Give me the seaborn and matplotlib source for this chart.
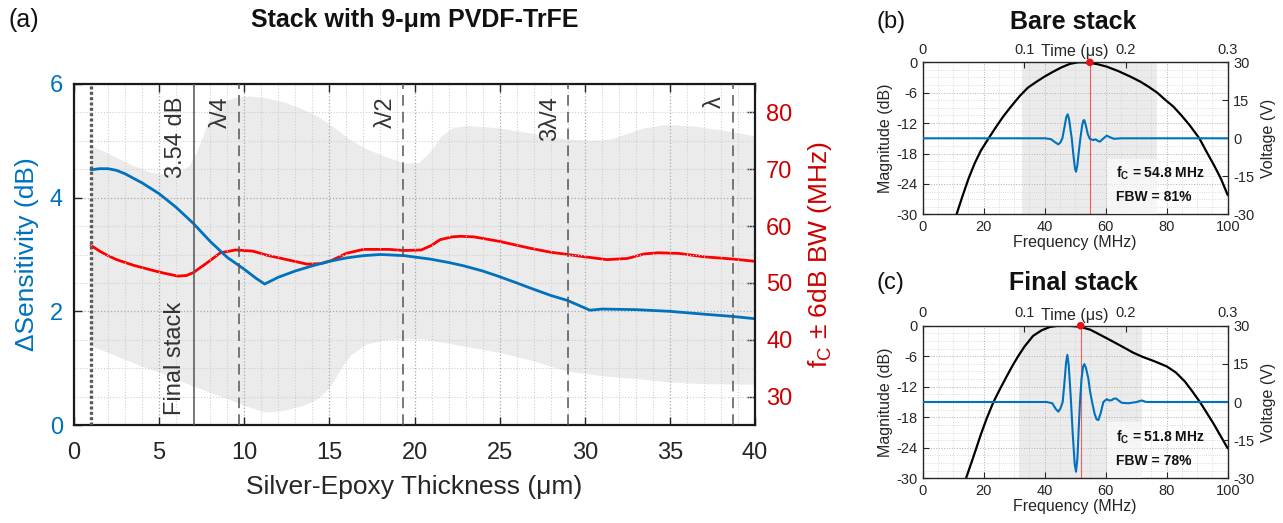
import numpy as np
import matplotlib
matplotlib.use('Agg')
import matplotlib.pyplot as plt
import seaborn as sns
from matplotlib.patches import Rectangle
from matplotlib.ticker import MultipleLocator

# ---------------- Panel (a) data ----------------
thick_blue = [1.0, 1.5, 2.0, 2.5, 3.0, 4.0, 5.0, 6.0, 7.0, 8.0, 9.0, 10.0, 10.7, 11.2,
              12.0, 13.0, 14.0, 15.0, 16.0, 17.0, 18.0, 19.4, 20.9, 22.0, 22.9, 24.0,
              24.9, 26.0, 26.8, 28.0, 29.0, 30.3, 31.0, 33.0, 35.0, 37.0, 38.7, 40.0]
dsens_db = [4.49, 4.51, 4.51, 4.48, 4.42, 4.26, 4.07, 3.83, 3.55, 3.23, 2.95, 2.74, 2.58, 2.48,
            2.60, 2.71, 2.80, 2.88, 2.94, 2.98, 3.00, 2.98, 2.92, 2.86, 2.80, 2.71,
            2.62, 2.50, 2.41, 2.28, 2.19, 2.02, 2.04, 2.03, 2.00, 1.95, 1.91, 1.87]

thick_red = [1.0, 1.5, 2.0, 2.5, 3.0, 3.5, 4.5, 5.3, 6.1, 6.6, 7.0, 7.8, 8.6, 9.5, 10.5, 11.3, 12.5,
             13.7, 14.5, 15.1, 16.0, 17.0, 18.5, 19.4, 20.4, 21.0, 21.5, 22.2, 22.7, 23.5,
             25.0, 26.8, 28.0, 29.0, 30.0, 31.3, 32.5, 33.5, 34.3, 35.5, 37.0, 38.7, 40.0]
fc_mhz = [56.6, 55.6, 54.8, 54.1, 53.6, 53.1, 52.3, 51.7, 51.2, 51.3, 51.8, 53.5, 55.3, 55.8, 55.6,
          54.9, 54.1, 53.3, 53.4, 53.9, 55.2, 55.9, 55.9, 55.7, 55.8, 56.6, 57.6, 58.1, 58.2, 58.1,
          57.3, 56.1, 55.4, 55.0, 54.6, 54.1, 54.3, 55.1, 55.3, 55.2, 54.6, 54.2, 53.8]

band_hi_x = [1.0, 2.0, 2.7, 3.5, 4.5, 5.5, 6.2, 6.8, 7.2, 7.5, 8.0, 8.6, 9.4, 10.35, 11.3,
             12.3, 13.3, 14.3, 15.3, 16.2, 17.2, 18.2, 19.4, 20.3, 21.0, 21.6, 22.3, 23.1,
             25.0, 27.0, 29.0, 30.5, 31.5, 32.5, 33.5, 34.8, 36.5, 38.5, 40.0]
band_hi = [74.1, 72.8, 71.7, 70.6, 69.4, 69.0, 69.4, 70.6, 72.8, 75.0, 79.0, 81.6, 82.5, 82.8, 82.5,
           81.8, 80.7, 79.3, 77.3, 75.2, 73.5, 72.3, 71.0, 71.1, 73.2, 75.8, 77.3, 77.6,
           77.2, 76.2, 75.2, 75.0, 75.2, 76.2, 77.2, 77.8, 77.5, 76.6, 75.8]
band_lo_x = [1.0, 2.0, 3.0, 4.0, 5.0, 6.0, 7.0, 8.0, 9.0, 10.0, 11.2, 12.2, 13.3, 14.0, 14.5,
             15.0, 15.3, 15.8, 16.3, 17.2, 18.3, 19.3, 20.5, 22.0, 25.0, 27.0, 29.0, 31.0,
             33.0, 35.0, 37.0, 40.0]
band_lo = [38.9, 37.7, 36.5, 35.3, 34.3, 33.0, 31.8, 30.7, 29.6, 28.4, 27.2, 27.4, 28.2, 29.0, 29.9,
           31.5, 32.8, 35.3, 37.3, 39.2, 39.9, 40.1, 40.1, 39.3, 37.7, 36.2, 34.4, 33.6,
           33.1, 32.5, 32.2, 32.1]

ref_x = [1.0, 7.04, 9.68, 19.35, 29.03, 38.7]
ref_style = ['dot', 'solid', 'dash', 'dash', 'dash', 'dash']
ref_labels = ['', '3.54 dB', 'λ/4', 'λ/2', '3λ/4', 'λ']

# ---------------- Panel (b) data ----------------
freq_b = [11.1, 13, 15, 17, 19, 21.5, 24, 26.4, 29, 31.9, 34.5, 37.4, 40, 42.8, 45.5, 48.3,
          51, 53, 54.8, 57.5, 60.3, 64, 68, 71.3, 74, 76.9, 79.5, 82.2, 85, 87.5, 90.7,
          93.1, 95.5, 97.8, 100]
mag_b = [-30, -26.5, -23, -20, -17.5, -15.1, -12.8, -10.7, -8.7, -6.6, -5.0, -3.8, -2.8, -1.85,
         -1.0, -0.3, 0, 0, -0.1, -0.4, -0.85, -1.7, -2.8, -3.8, -4.8, -6.0, -7.4, -8.75,
         -10.6, -12.4, -15, -17.7, -20.3, -23.0, -26.2]
time_b = [0.0, 0.120, 0.126, 0.130, 0.1334, 0.1355, 0.1374, 0.1395, 0.1412, 0.1426, 0.1440,
          0.1455, 0.1466, 0.1482, 0.1498, 0.1508, 0.1520, 0.1535, 0.1551, 0.1568, 0.1580,
          0.1590, 0.1605, 0.1625, 0.1645, 0.1679, 0.1700, 0.1725, 0.1744, 0.1770, 0.1810,
          0.1843, 0.1882, 0.1950, 0.3]
volt_b = [0, 0, -0.3, -1.5, -2.4, -1.6, 0, 4.5, 8.3, 9.5, 7.5,
          3.0, 0, -6.5, -12.0, -13.2, -11.0, -5.5, 0, 5.0, 7.0,
          7.2, 5.0, 1.5, -0.3, -0.7, -0.4, -1.1, -1.3, -0.3, 1.05,
          0.4, -0.2, 0, 0]
fc_b, bw_lo_b, bw_hi_b, fbw_b = 54.8, 32.7, 76.9, 81

# ---------------- Panel (c) data ----------------
freq_c = [14.2, 16.5, 19, 21, 23.2, 25.3, 27.5, 29.5, 31.5, 33.5, 36.2, 39, 41.7, 44.5, 47.5,
          50, 51.8, 55, 58.2, 62, 66, 69, 72, 76, 80, 83, 86, 88.5, 90.9, 93, 95.3, 97.5, 100]
mag_c = [-30, -26, -21.5, -18.2, -15, -12.5, -10, -7.8, -5.8, -4.0, -2.0, -0.9, -0.25, 0, 0,
         -0.1, -0.25, -0.8, -1.8, -3.0, -4.3, -5.3, -6.1, -7.0, -8.0, -9.2, -11.0, -13.0,
         -15, -17, -19.2, -21.5, -24.1]
time_c = [0.0, 0.122, 0.1275, 0.1310, 0.1334, 0.1355, 0.1377, 0.1395, 0.1410, 0.1423, 0.1436,
          0.1450, 0.1459, 0.1475, 0.1495, 0.1508, 0.1522, 0.1535, 0.1547, 0.1562, 0.1578,
          0.1590, 0.1605, 0.1629, 0.1645, 0.1662, 0.1690, 0.1710, 0.1728, 0.1750, 0.1777,
          0.1810, 0.1835, 0.1859, 0.1880, 0.1901, 0.1930, 0.1957, 0.2022, 0.2105, 0.2154,
          0.2200, 0.3]
volt_c = [0, 0, -0.5, -2.8, -3.8, -2.5, 0, 8, 15.5, 18.5, 14.5,
          6, 0, -12, -24.5, -27.4, -22, -10, 0, 9, 14,
          14.9, 13.5, 9.3, 4.5, 0.8, -4.5, -6.8, -7.1, -4.5, 0,
          1.1, 0.6, 0.7, 1.3, 1.4, 0.5, -0.3, -0.5, 0, 0.6,
          0, 0]
fc_c, bw_lo_c, bw_hi_c, fbw_c = 51.8, 31.7, 71.8, 78

time_ticks = [0, 0.1, 0.2, 0.3]
time_labels = ['0', '0.1', '0.2', '0.3']

# ---------------- Style ----------------
sns.set_theme(style='white')
plt.rcParams['font.family'] = ['Liberation Sans', 'DejaVu Sans']
plt.rcParams['mathtext.fontset'] = 'custom'
plt.rcParams['mathtext.rm'] = 'Liberation Sans'
plt.rcParams['mathtext.bf'] = 'Liberation Sans:bold'
plt.rcParams['axes.unicode_minus'] = False

BLUE = '#0072BD'
RED_LINE = '#FF0000'
RED_AX = '#CC0000'
TXT = '#262626'
W, H = 1283, 523

fig = plt.figure(figsize=(12.83, 5.23), dpi=100)

def rect(l, r, t, b):
    return [l / W, 1 - b / H, (r - l) / W, (b - t) / H]

# ================= Panel (a) =================
ax1 = fig.add_axes(rect(74, 755, 84, 425))
ax2 = ax1.twinx()
ax1.set_zorder(2)
ax2.set_zorder(1)
ax1.patch.set_visible(False)

ax2.fill(np.concatenate([band_hi_x, band_lo_x[::-1]]),
         np.concatenate([band_hi, band_lo[::-1]]),
         color='#ebebeb', lw=0, zorder=0)
sns.lineplot(x=thick_red, y=fc_mhz, ax=ax2, color=RED_LINE, linewidth=2.0,
             estimator=None, sort=False)
ax2.set_ylim(25, 85)
ax2.set_yticks([30, 40, 50, 60, 70, 80])
ax2.tick_params(axis='y', direction='in', right=True, length=6, width=1,
                color='#262626', labelcolor=RED_AX, labelsize=17, pad=8)
ax2.set_ylabel(r'f$_\mathrm{C}$ ± 6dB BW (MHz)', color=RED_AX, fontsize=19, labelpad=10)
for s in ax2.spines.values():
    s.set_visible(False)

sns.lineplot(x=thick_blue, y=dsens_db, ax=ax1, color=BLUE, linewidth=2.0,
             estimator=None, sort=False)
for xv, st in zip(ref_x, ref_style):
    if st == 'dot':
        ax1.axvline(xv, color='#5a5a5a', lw=2.4, ls=(0, (0.9, 0.7)), zorder=3)
    elif st == 'solid':
        ax1.axvline(xv, color='#555555', lw=1.1, zorder=3)
    else:
        ax1.axvline(xv, color='#555555', lw=1.1, ls=(0, (7, 4)), zorder=3)
for xv, lb in zip(ref_x, ref_labels):
    if lb:
        ax1.text(xv - 1.05, 5.78, lb, rotation=90, ha='center', va='top',
                 fontsize=17, color='#333333', zorder=4)
ax1.text(ref_x[1] - 1.1, 0.18, 'Final stack', rotation=90, ha='center', va='bottom',
         fontsize=17, color='#333333', zorder=4)

ax1.set_xlim(0, 40)
ax1.set_ylim(0, 6)
ax1.set_xticks(np.arange(0, 41, 5))
ax1.set_yticks([0, 2, 4, 6])
ax1.xaxis.set_minor_locator(MultipleLocator(1))
ax1.yaxis.set_minor_locator(MultipleLocator(0.5))
ax1.grid(which='major', ls=':', color='#a8a8a8', lw=0.9)
ax1.grid(which='minor', ls=':', color='#cfcfcf', lw=0.8)
ax1.tick_params(which='major', direction='in', left=True, right=False, top=True, bottom=True,
                length=6, width=1, color='#262626', labelsize=17)
ax1.tick_params(axis='x', pad=12, labelcolor=TXT)
ax1.tick_params(axis='y', labelcolor=BLUE, pad=8)
ax1.tick_params(which='minor', length=0)
for s in ax1.spines.values():
    s.set_visible(True)
    s.set_color('#1a1a1a')
    s.set_linewidth(1.6)
ax1.set_xlabel('Silver-Epoxy Thickness (μm)', fontsize=19, color=TXT, labelpad=8)
ax1.set_ylabel('ΔSensitivity (dB)', fontsize=19, color=BLUE, labelpad=8)

fig.text(8 / W, 1 - 20 / H, '(a)', fontsize=18, ha='left', va='center', color='#111111')
fig.text(415 / W, 1 - 20 / H, 'Stack with 9-μm PVDF-TrFE', fontsize=18, fontweight='bold',
         ha='center', va='center', color='#111111')

# ================= Panels (b), (c) =================
def spectrum_panel(r, freq, mag, tim, volt, fc, blo, bhi, fbw, title, tag, ty):
    ax = fig.add_axes(r)
    ax.axvspan(blo, bhi, color='#ebebeb', lw=0, zorder=0)
    ax.set_axisbelow(True)
    sns.lineplot(x=freq, y=mag, ax=ax, color='black', linewidth=1.6,
                 estimator=None, sort=False, zorder=2)
    ax.axvline(fc, color='red', lw=0.8, alpha=0.6, zorder=2)
    ax.scatter([fc], [0], s=30, color='#ee1111', zorder=6, clip_on=False, edgecolor='none')
    ax.add_patch(Rectangle((60.3, -30), bhi - 60.3, 11, facecolor='white', alpha=0.6,
                           edgecolor='none', zorder=3))
    ax.text(63.5, -21.9, r'f$_\mathbf{C}$ = %.1f MHz' % fc, fontsize=10, fontweight='bold',
            va='center', ha='left', zorder=5, color='#111111')
    ax.text(63.5, -26.6, 'FBW = %d%%' % fbw, fontsize=10, fontweight='bold',
            va='center', ha='left', zorder=5, color='#111111')
    ax.set_xlim(0, 100)
    ax.set_ylim(-30, 0)
    ax.set_xticks(np.arange(0, 101, 20))
    ax.set_yticks(np.arange(-30, 1, 6))
    ax.xaxis.set_minor_locator(MultipleLocator(5))
    ax.yaxis.set_minor_locator(MultipleLocator(1.5))
    ax.grid(which='major', ls=':', color='#b0b0b0', lw=0.7)
    ax.grid(which='minor', ls=':', color='#d2d2d2', lw=0.6)
    ax.tick_params(which='major', direction='in', left=True, bottom=True, top=False, right=False,
                   length=4, width=0.8, color='#262626', labelsize=10.5, labelcolor=TXT, pad=4)
    ax.tick_params(which='minor', length=0)
    for s in ax.spines.values():
        s.set_visible(True)
        s.set_color('#262626')
        s.set_linewidth(1.0)
    ax.set_xlabel('Frequency (MHz)', fontsize=11.5, color=TXT, labelpad=1)
    ax.set_ylabel('Magnitude (dB)', fontsize=11.5, color=TXT, labelpad=2)

    av = fig.add_axes(r)
    av.patch.set_visible(False)
    for s in av.spines.values():
        s.set_visible(False)
    sns.lineplot(x=tim, y=volt, ax=av, color=BLUE, linewidth=1.5, estimator=None, sort=False)
    av.set_xlim(0, 0.3)
    av.set_ylim(-30, 30)
    av.set_xticks(time_ticks)
    av.set_xticklabels(time_labels)
    av.set_yticks([-30, -15, 0, 15, 30])
    av.xaxis.tick_top()
    av.yaxis.tick_right()
    av.yaxis.set_label_position('right')
    av.tick_params(direction='in', top=True, right=True, bottom=False, left=False,
                   length=4, width=0.8, color='#262626', labelsize=10.5, labelcolor=TXT, pad=4)
    av.set_ylabel('Voltage (V)', fontsize=11.5, color=TXT, labelpad=5)
    av.set_xlabel('')
    av.text(0.5, 1.02, 'Time (μs)', transform=av.transAxes, fontsize=11.5, color=TXT,
            ha='center', va='bottom')
    fig.text(876 / W, 1 - ty / H, tag, fontsize=17, ha='left', va='center', color='#111111')
    fig.text(1073 / W, 1 - ty / H, title, fontsize=18, fontweight='bold', ha='center',
             va='center', color='#111111')
    return ax, av

spectrum_panel(rect(922.7, 1227.7, 62.3, 214.3), freq_b, mag_b, time_b, volt_b,
               fc_b, bw_lo_b, bw_hi_b, fbw_b, 'Bare stack', '(b)', 22)
spectrum_panel(rect(922.7, 1227.7, 325.7, 478.3), freq_c, mag_c, time_c, volt_c,
               fc_c, bw_lo_c, bw_hi_c, fbw_c, 'Final stack', '(c)', 283)

fig.savefig('out.png', dpi=100)
